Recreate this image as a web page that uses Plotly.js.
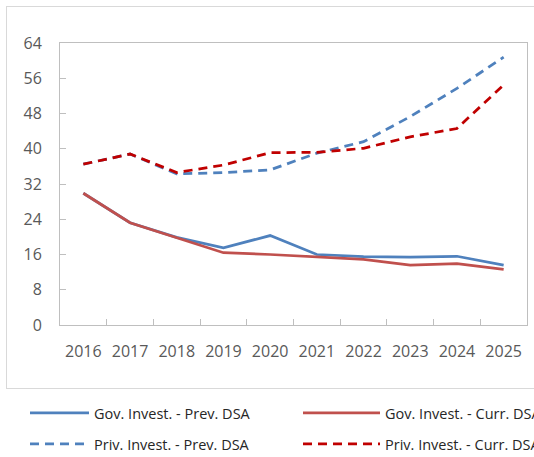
<!DOCTYPE html>
<html>
<head>
<meta charset="utf-8">
<script src="https://cdn.plot.ly/plotly-3.0.1.min.js"></script>
<style>
  html, body { margin: 0; padding: 0; background: #ffffff; }
  #wrap { position: relative; width: 534px; height: 457px; overflow: hidden; }
  #frame { position: absolute; left: 6px; top: 6px; width: 560px; height: 381px; border: 1px solid #d9d9d9; pointer-events: none; }
  #chart { position: absolute; left: 0; top: 0; width: 534px; height: 457px; }
</style>
</head>
<body>
<div id="wrap">
  <div id="frame"></div>
  <div id="chart"></div>
</div>
<script>
const years = ["2016", "2017", "2018", "2019", "2020", "2021", "2022", "2023", "2024", "2025"];
const govPrev  = [29.9, 23.2, 19.9, 17.5, 20.3, 16.0, 15.5, 15.4, 15.6, 13.6];
const govCurr  = [29.9, 23.2, 19.8, 16.4, 16.0, 15.5, 14.9, 13.6, 13.9, 12.6];
const privPrev = [36.5, 38.8, 34.3, 34.6, 35.2, 39.0, 41.6, 47.3, 53.7, 60.8];
const privCurr = [36.5, 38.8, 34.6, 36.3, 39.1, 39.2, 40.1, 42.7, 44.6, 54.5];
const yTicks = [0, 8, 16, 24, 32, 40, 48, 56, 64];

const names = ["Gov. Invest. - Prev. DSA", "Gov. Invest. - Curr. DSA",
               "Priv. Invest. - Prev. DSA", "Priv. Invest. - Curr. DSA"];

const traces = [
  { x: years, y: govPrev, name: names[0], type: "scatter", mode: "lines",
    line: { color: "#4F81BD", width: 2.75 }, legend: "legend" },
  { x: years, y: govCurr, name: names[1], type: "scatter", mode: "lines",
    line: { color: "#C0504D", width: 2.75 }, legend: "legend2" },
  { x: years, y: privPrev, name: names[2], type: "scatter", mode: "lines",
    line: { color: "#4F81BD", width: 2.75, dash: "9px,6px" }, legend: "legend3" },
  { x: years, y: privCurr, name: names[3], type: "scatter", mode: "lines",
    line: { color: "#C00000", width: 2.75, dash: "9px,6px" }, legend: "legend4" }
];

const tickFont = { family: "Open Sans, Noto Sans, sans-serif", size: 16, color: "#595959" };
const legFont = { family: "Open Sans, Noto Sans, sans-serif", size: 14.5, color: "#262626" };

function leg(x, y, w) {
  return {
    orientation: "h", x: x, xanchor: "left", y: y, yanchor: "middle",
    itemwidth: w, font: legFont, bgcolor: "rgba(0,0,0,0)", borderwidth: 0
  };
}

const plotW = 467, plotH = 282;
const row1 = -(413 - 325) / plotH, row2 = -(444 - 325) / plotH;
const col1 = (25 - 60) / plotW, col2 = (298 - 60) / plotW;

const layout = {
  width: 534, height: 457,
  margin: { l: 60, r: 7, t: 43, b: 132, autoexpand: false },
  paper_bgcolor: "rgba(0,0,0,0)",
  plot_bgcolor: "#ffffff",
  showlegend: true,
  xaxis: {
    type: "category",
    range: [-0.5, 9.5],
    tickvals: years, ticktext: years,
    tickson: "boundaries",
    ticks: "inside", ticklen: 6, tickcolor: "#bfbfbf",
    showline: true, linecolor: "#bfbfbf", linewidth: 1, mirror: true,
    showgrid: false, zeroline: false,
    tickfont: tickFont, ticklabelstandoff: 12
  },
  yaxis: {
    range: [0, 64], tickvals: yTicks, ticktext: yTicks.map(String),
    ticks: "inside", ticklen: 6, tickcolor: "#bfbfbf",
    showline: true, linecolor: "#bfbfbf", linewidth: 1, mirror: true,
    showgrid: false, zeroline: false,
    tickfont: tickFont, ticklabelstandoff: 14
  },
  legend: leg(col1, row1, 59),
  legend2: leg(col2, row1, 77),
  legend3: leg(col1, row2, 59),
  legend4: leg(col2, row2, 77)
};

Plotly.newPlot("chart", traces, layout, { displayModeBar: false, staticPlot: true });
</script>
</body>
</html>
